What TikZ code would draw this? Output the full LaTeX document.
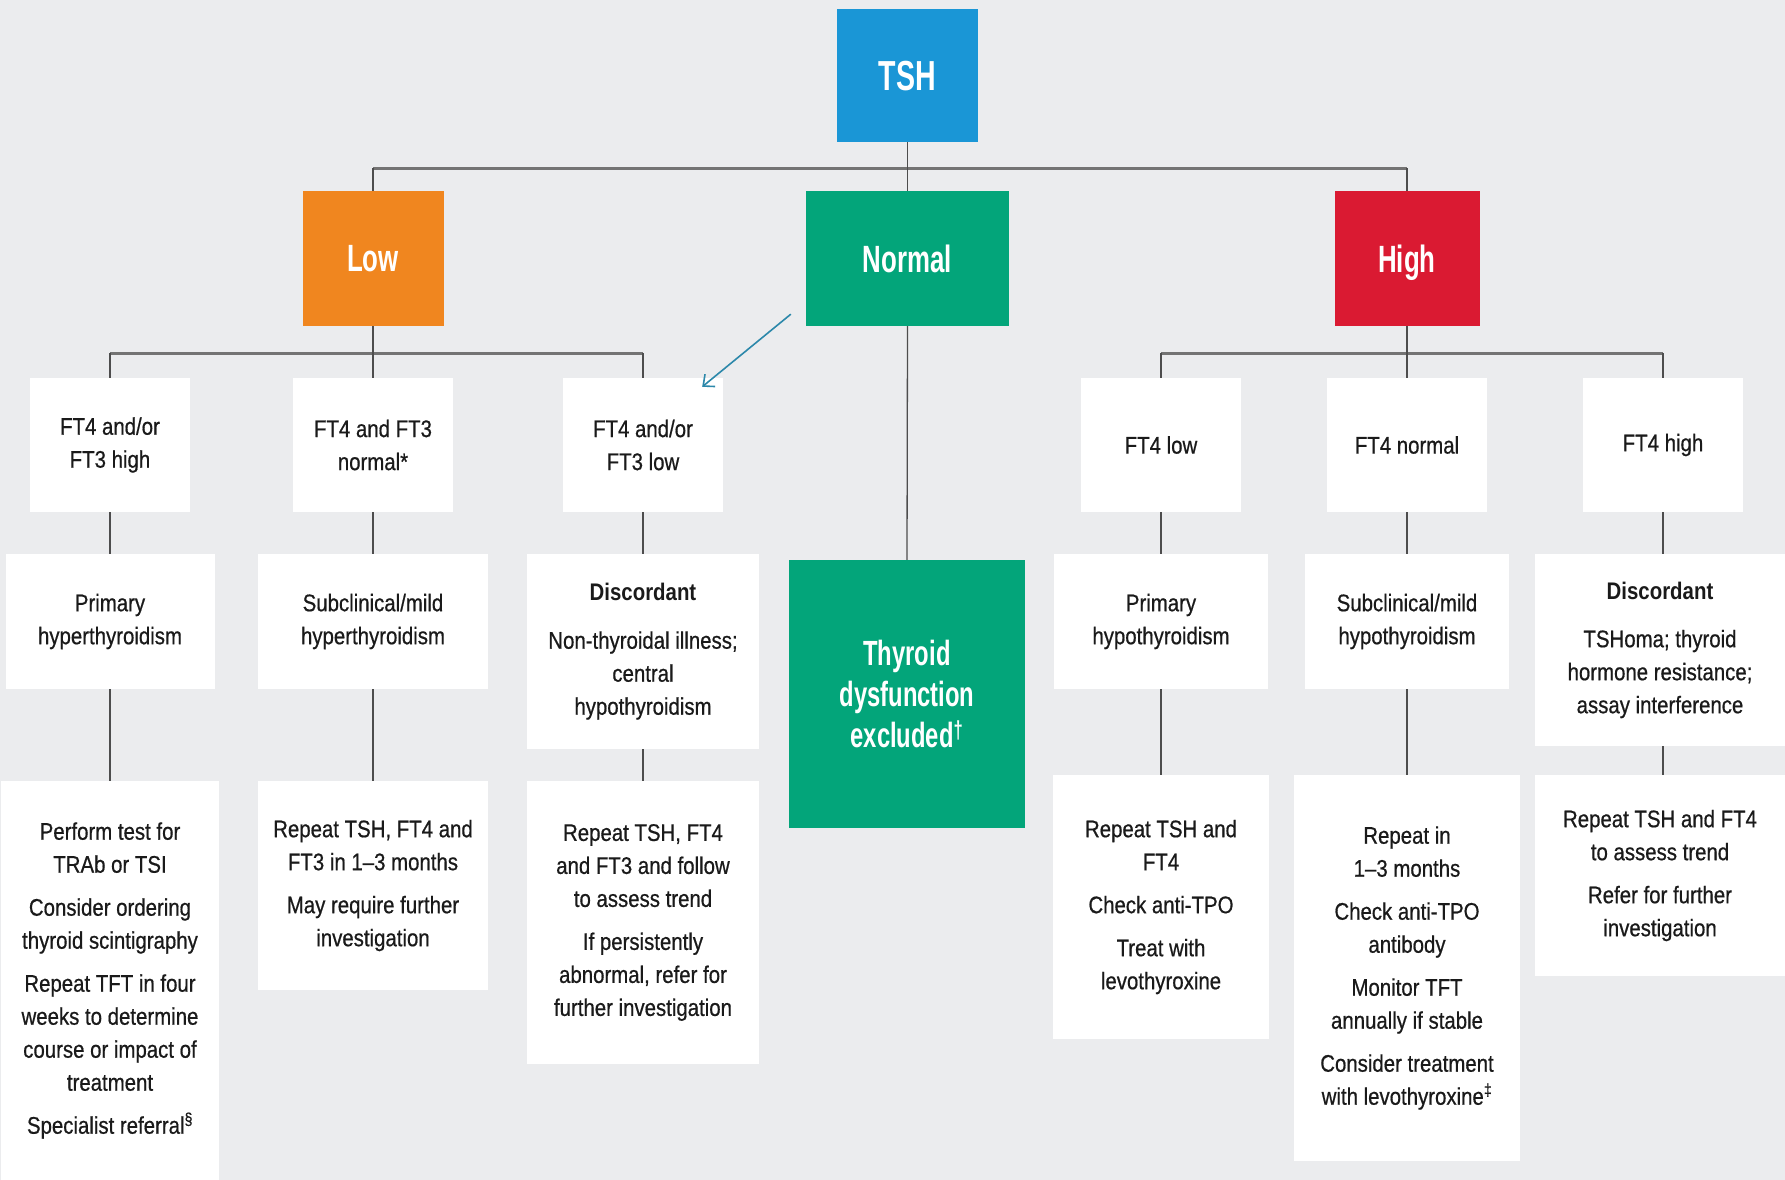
\documentclass[tikz,border=0pt]{standalone}
\usepackage{fontspec}
\setmainfont{Liberation Sans}[FakeStretch=0.85, UprightFeatures={FakeBold=0.6}]
\newfontfamily\headfont{Liberation Sans}[FakeStretch=0.68]
\usetikzlibrary{arrows.meta}

\definecolor{bg}{HTML}{EBECEE}
\definecolor{tshblue}{HTML}{1A96D6}
\definecolor{loworange}{HTML}{F0861F}
\definecolor{normgreen}{HTML}{03A57A}
\definecolor{highred}{HTML}{DA1A32}
\definecolor{linkgrey}{HTML}{4D4D4D}
\definecolor{bargrey}{HTML}{737373}
\definecolor{pointer}{HTML}{2C88AA}
\definecolor{ink}{HTML}{1A1A1A}

\pgfdeclarelayer{canvas}
\pgfdeclarelayer{links}
\pgfsetlayers{canvas,links,main}

\tikzset{
  x=1pt, y=-1pt,
  body/.style={fill=white, inner sep=0pt, align=center, text=ink,
    font=\fontsize{24}{33}\selectfont},
  tagbox/.style={inner sep=0pt, align=center, text=white, text depth=0pt,
    font=\headfont\bfseries\fontsize{38}{42}\selectfont},
  link/.style={draw=linkgrey, line width=1.3pt},
  bar/.style={draw=bargrey, line width=3pt},
  pointerline/.style={draw=pointer, line width=1.6pt,
    -{Straight Barb[length=9pt,width=16pt,line width=1.6pt]}},
}
\newcommand{\pgap}{\\[10pt]}

\begin{document}
\begin{tikzpicture}
\useasboundingbox (0,0) rectangle (1785,1180);

% level 1 and 2: TSH and its three outcomes
\node[tagbox, fill=tshblue, minimum width=141pt, minimum height=133pt,
  font=\headfont\bfseries\fontsize{42}{46}\selectfont] (tsh) at (907.5,75.5) {TSH};
\node[tagbox, fill=loworange, minimum width=141pt, minimum height=135pt] (low) at (373,258.5) {Low};
\node[tagbox, fill=normgreen, minimum width=203pt, minimum height=135pt] (normal) at (907.5,258.5) {Normal};
\node[tagbox, fill=highred, minimum width=145pt, minimum height=135pt] (high) at (1407,258.5) {High};

% level 3: free thyroxine results
\node[body, minimum width=160pt, minimum height=134pt] (l1) at (110,445) {FT4 and/or\\FT3 high};
\node[body, minimum width=160pt, minimum height=134pt] (l2) at (373,445) {FT4 and FT3\\normal*};
\node[body, minimum width=160pt, minimum height=134pt] (l3) at (643,445) {FT4 and/or\\FT3 low};
\node[body, minimum width=160pt, minimum height=134pt] (l4) at (1161,445) {FT4 low};
\node[body, minimum width=160pt, minimum height=134pt] (l5) at (1407,445) {FT4 normal};
\node[body, minimum width=160pt, minimum height=134pt] (l6) at (1663,445) {FT4 high};

% level 4: interpretation
\node[body, minimum width=209pt, minimum height=135pt] (d1) at (110,621.5) {Primary\\hyperthyroidism};
\node[body, minimum width=230pt, minimum height=135pt] (d2) at (373,621.5) {Subclinical/mild\\hyperthyroidism};
\node[body, minimum width=232pt, minimum height=195pt] (d3) at (643,651.5)
  {\textbf{Discordant}\\[15pt]Non-thyroidal illness;\\central\\hypothyroidism};
\node[body, minimum width=214pt, minimum height=135pt] (d4) at (1161,621.5) {Primary\\hypothyroidism};
\node[body, minimum width=204pt, minimum height=135pt] (d5) at (1407,621.5) {Subclinical/mild\\hypothyroidism};
\node[body, minimum width=250pt, minimum height=192pt] (d6) at (1660,650)
  {\textbf{Discordant}\\[15pt]TSHoma; thyroid\\hormone resistance;\\assay interference};

\node[tagbox, fill=normgreen, minimum width=236pt, minimum height=268pt,
  font=\headfont\bfseries\fontsize{35}{41}\selectfont] (excl) at (907,694)
  {Thyroid\\dysfunction\\excluded\textsuperscript{†}};

% level 5: actions
\node[body, minimum width=218pt, minimum height=399pt] (a1) at (110,980.5)
  {Perform test for\\TRAb or TSI\pgap Consider ordering\\thyroid scintigraphy\pgap
   Repeat TFT in four\\weeks to determine\\course or impact of\\treatment\pgap
   Specialist referral\textsuperscript{§}};
\node[body, minimum width=230pt, minimum height=209pt] (a2) at (373,885.5)
  {Repeat TSH, FT4 and\\FT3 in 1–3 months\pgap May require further\\investigation};
\node[body, minimum width=232pt, minimum height=283pt] (a3) at (643,922.5)
  {Repeat TSH, FT4\\and FT3 and follow\\to assess trend\pgap If persistently\\abnormal, refer for\\further investigation};
\node[body, minimum width=216pt, minimum height=264pt] (a4) at (1161,907)
  {Repeat TSH and\\FT4\pgap Check anti-TPO\pgap Treat with\\levothyroxine};
\node[body, minimum width=226pt, minimum height=386pt] (a5) at (1407,968)
  {Repeat in\\1–3 months\pgap Check anti-TPO\\antibody\pgap Monitor TFT\\annually if stable\pgap
   Consider treatment\\with levothyroxine\textsuperscript{‡}};
\node[body, minimum width=250pt, minimum height=201pt] (a6) at (1660,875.5)
  {Repeat TSH and FT4\\to assess trend\pgap Refer for further\\investigation};

% bus lines
\coordinate (busA) at (907.5,168);
\coordinate (busL) at (373,353);
\coordinate (busH) at (1407,353);

\begin{pgfonlayer}{canvas}
  \fill[bg] (0,0) rectangle (1785,1180);
\end{pgfonlayer}

\begin{pgfonlayer}{links}
  % from TSH to the three outcomes
  \draw[bar] (low.north |- busA) -- (high.north |- busA);
  \draw[link] (tsh.south) -- (normal.north);
  \draw[link] (low.north |- busA) -- (low.north);
  \draw[link] (high.north |- busA) -- (high.north);
  \draw[link] (normal.south) -- (excl.north);
  % low TSH branch
  \draw[bar] (l1.north |- busL) -- (l3.north |- busL);
  \draw[link] (low.south) -- (l2.north);
  \draw[link] (l1.north |- busL) -- (l1.north);
  \draw[link] (l3.north |- busL) -- (l3.north);
  % high TSH branch
  \draw[bar] (l4.north |- busH) -- (l6.north |- busH);
  \draw[link] (high.south) -- (l5.north);
  \draw[link] (l4.north |- busH) -- (l4.north);
  \draw[link] (l6.north |- busH) -- (l6.north);
  % down each column
  \foreach \i in {1,...,6}{
    \draw[link] (l\i.south) -- (l\i.south |- d\i.north);
    \draw[link] (d\i.south -| l\i.south) -- (l\i.south |- a\i.north);
  }
\end{pgfonlayer}

% pointer arrow
\coordinate (ptrstart) at ([xshift=-15pt,yshift=12pt]normal.south west);
\draw[pointerline] (ptrstart) -- ([xshift=-21pt,yshift=-9pt]l3.north east);
\end{tikzpicture}
\end{document}
